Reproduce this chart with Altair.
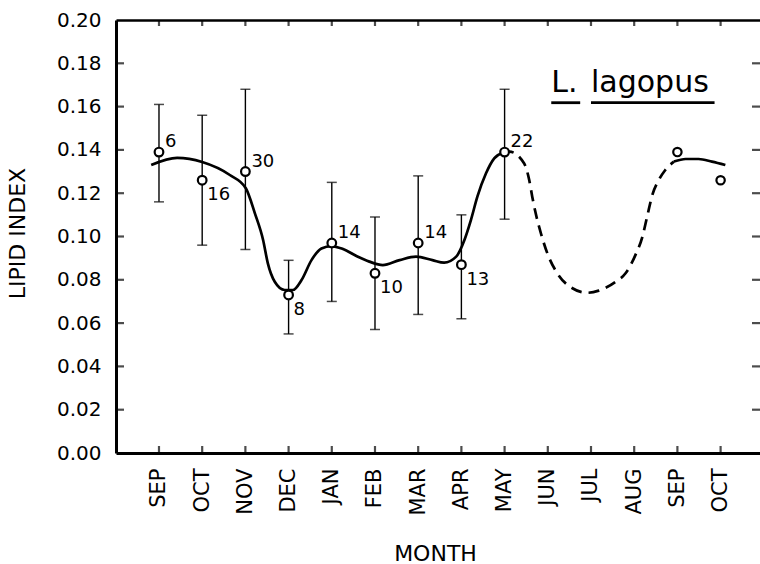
import altair as alt
import pandas as pd

# ---------------- data ----------------
months = ["SEP", "OCT", "NOV", "DEC", "JAN", "FEB", "MAR", "APR", "MAY",
          "JUN", "JUL", "AUG", "SEP", "OCT"]
month_pos = list(range(14))

# first year: means, error bars, sample sizes
obs_pos = [0, 1, 2, 3, 4, 5, 6, 7, 8]
obs_mean = [0.139, 0.126, 0.130, 0.073, 0.097, 0.083, 0.097, 0.087, 0.139]
obs_low = [0.116, 0.096, 0.094, 0.055, 0.070, 0.057, 0.064, 0.062, 0.108]
obs_high = [0.161, 0.156, 0.168, 0.089, 0.125, 0.109, 0.128, 0.110, 0.168]
obs_n = ["6", "16", "30", "8", "14", "10", "14", "13", "22"]
label_side = ["above", "below", "above", "below", "above", "below", "above", "below", "above"]

# second year: means only
yr2_pos = [12, 13]
yr2_mean = [0.139, 0.126]

# fitted curve
curve_a_pos = [-0.18, 0.42, 1.0, 1.64, 2.01, 2.22, 2.41, 2.52, 2.68, 2.91, 3.10, 3.30,
               3.53, 3.76, 3.99, 4.26, 4.57, 4.87, 5.18, 5.57, 5.95, 6.33, 6.60, 6.88,
               7.07, 7.22, 7.37, 7.57, 7.76, 7.96]
curve_a_val = [0.133, 0.1363, 0.1344, 0.1284, 0.1223, 0.1107, 0.0984, 0.0876, 0.0791,
               0.0753, 0.0753, 0.0799, 0.0891, 0.0945, 0.0956, 0.0942, 0.0910, 0.0884,
               0.0868, 0.0891, 0.0907, 0.0891, 0.0879, 0.0907, 0.0984, 0.1076, 0.1184,
               0.1292, 0.1361, 0.1387]
curve_b_pos = [7.96, 8.11, 8.45, 8.57, 8.64, 8.72, 8.84, 8.99, 9.22, 9.57, 9.91, 10.18,
               10.57, 10.80, 11.03, 11.19, 11.30, 11.42, 11.57, 11.72, 11.92]
curve_b_val = [0.1387, 0.1392, 0.1338, 0.1261, 0.1184, 0.1107, 0.1015, 0.0922, 0.0830,
               0.0761, 0.0740, 0.0750, 0.0791, 0.0830, 0.0915, 0.0999, 0.1092, 0.1192,
               0.1261, 0.1307, 0.1346]
curve_c_pos = [11.92, 12.19, 12.49, 12.80, 13.11]
curve_c_val = [0.1346, 0.1358, 0.1358, 0.1346, 0.1330]

y_ticks = [0.02, 0.04, 0.06, 0.08, 0.10, 0.12, 0.14, 0.16, 0.18]
y_labels = [0.00, 0.02, 0.04, 0.06, 0.08, 0.10, 0.12, 0.14, 0.16, 0.18, 0.20]

species_parts = ["L.", "lagopus"]
species_start = [9.08, 10.0]
species_end = [9.75, 12.86]
species_y = 0.1667
underline_y = 0.1618

# ---------------- tables ----------------
obs = pd.DataFrame({"pos": obs_pos, "mean": obs_mean, "low": obs_low, "high": obs_high,
                    "n": obs_n, "side": label_side})
yr2 = pd.DataFrame({"pos": yr2_pos, "mean": yr2_mean})
curve_a = pd.DataFrame({"pos": curve_a_pos, "val": curve_a_val})
curve_b = pd.DataFrame({"pos": curve_b_pos, "val": curve_b_val})
curve_c = pd.DataFrame({"pos": curve_c_pos, "val": curve_c_val})
mticks = pd.DataFrame({"pos": month_pos})
yt = pd.DataFrame({"v": y_ticks})
species = pd.DataFrame({"txt": species_parts, "x0": species_start, "x1": species_end,
                        "y": [species_y] * 2, "uy": [underline_y] * 2})

W, H = 644, 433
FONT = "DejaVu Sans"

xscale = alt.Scale(domain=[-0.995, 13.912], nice=False, zero=False)
yscale = alt.Scale(domain=[0, 0.2], nice=False, zero=False)

label_expr = "[" + ",".join("'%s'" % m for m in months) + "][datum.value]"

x_bottom = alt.Axis(orient="bottom", values=month_pos, labelExpr=label_expr, labelAngle=-90,
                    labelAlign="right", labelBaseline="middle", labelFontSize=21,
                    labelPadding=15, labelColor="black", labelFont=FONT,
                    ticks=False, tickSize=0, domainWidth=3, domainColor="black", grid=False,
                    title="MONTH", titleFont=FONT, titleFontSize=22, titleFontWeight="normal",
                    titleColor="black", titleX=319, titleY=107, titleAlign="center",
                    titleBaseline="alphabetic")
x_top = alt.Axis(orient="top", labels=False, ticks=False, tickSize=0, domainWidth=2.5,
                 domainColor="black", grid=False, title=None)
y_axis = alt.Axis(orient="left", values=y_labels, format=".2f", labelFontSize=20,
                  labelFont=FONT, labelColor="black", labelPadding=15, ticks=False,
                  tickSize=0, domainWidth=3, domainColor="black", grid=False,
                  title="LIPID INDEX", titleFont=FONT, titleFontSize=22,
                  titleFontWeight="normal", titleColor="black", titleAngle=-90,
                  titleX=-99, titleY=213, titleAlign="center", titleBaseline="middle")


def X(field, axis=None):
    return alt.X(field, type="quantitative", scale=xscale, axis=axis)


def Y(field):
    return alt.Y(field, type="quantitative", scale=yscale, axis=y_axis)


line_a = alt.Chart(curve_a).mark_line(color="black", strokeWidth=2.7, interpolate="monotone").encode(
    x=X("pos"), y=Y("val"))
line_b = alt.Chart(curve_b).mark_line(color="black", strokeWidth=2.7, interpolate="monotone",
                                      strokeDash=[11, 7]).encode(x=X("pos"), y=Y("val"))
line_c = alt.Chart(curve_c).mark_line(color="black", strokeWidth=2.7, interpolate="monotone").encode(
    x=X("pos"), y=Y("val"))

err = alt.Chart(obs).mark_rule(color="black", strokeWidth=1.4).encode(
    x=X("pos"), y=Y("low"), y2="high")
cap_hi = alt.Chart(obs).mark_tick(color="black", orient="horizontal", size=10, thickness=1.5).encode(
    x=X("pos"), y=Y("high"))
cap_lo = alt.Chart(obs).mark_tick(color="black", orient="horizontal", size=10, thickness=1.5).encode(
    x=X("pos"), y=Y("low"))

pts = alt.Chart(obs).mark_point(shape="circle", size=75, filled=False, fill="white",
                                fillOpacity=1, stroke="black", strokeWidth=2.2, opacity=1).encode(
    x=X("pos", x_bottom), y=Y("mean"))
pts2 = alt.Chart(yr2).mark_point(shape="circle", size=70, filled=False, fill="white",
                                 fillOpacity=1, stroke="black", strokeWidth=2.2, opacity=1).encode(
    x=X("pos"), y=Y("mean"))

lab_above = alt.Chart(obs).transform_filter("datum.side == 'above'").mark_text(
    align="left", baseline="alphabetic", dx=6, dy=-5, font=FONT, fontSize=18, color="black").encode(
    x=X("pos"), y=Y("mean"), text="n:N")
lab_below = alt.Chart(obs).transform_filter("datum.side == 'below'").mark_text(
    align="left", baseline="alphabetic", dx=5, dy=20, font=FONT, fontSize=18, color="black").encode(
    x=X("pos"), y=Y("mean"), text="n:N")

sp_text = alt.Chart(species).mark_text(align="left", baseline="alphabetic", font=FONT,
                                       fontSize=30, color="black").encode(
    x=X("x0"), y=Y("y"), text="txt:N")
sp_line = alt.Chart(species).mark_rule(color="black", strokeWidth=2.8).encode(
    x=X("x0"), x2="x1", y=Y("uy"))

# inward tick marks on all four sides
top_ticks = alt.Chart(mticks).mark_tick(color="black", orient="vertical", size=6, thickness=2.2).encode(
    x=X("pos", x_top), y=alt.value(3))
bot_ticks = alt.Chart(mticks).mark_tick(color="black", orient="vertical", size=7, thickness=2.2).encode(
    x=X("pos"), y=alt.value(H - 3.5))
left_ticks = alt.Chart(yt).mark_tick(color="black", orient="horizontal", size=8, thickness=2.2).encode(
    y=Y("v"), x=alt.value(4))
right_ticks = alt.Chart(yt).mark_tick(color="black", orient="horizontal", size=8, thickness=2.2).encode(
    y=Y("v"), x=alt.value(W - 4))

chart = alt.layer(
    line_a, line_b, line_c, err, cap_hi, cap_lo, pts, pts2, lab_above, lab_below,
    sp_text, sp_line, top_ticks, bot_ticks, left_ticks, right_ticks
).resolve_axis(x="independent").properties(
    width=W, height=H,
    autosize=alt.AutoSizeParams(type="none"),
    padding={"left": 116, "top": 20, "right": 0, "bottom": 111},
).configure_view(stroke=None).configure(background="white", font=FONT)

chart.save("out.html", embed_options={"renderer": "svg", "actions": False})
